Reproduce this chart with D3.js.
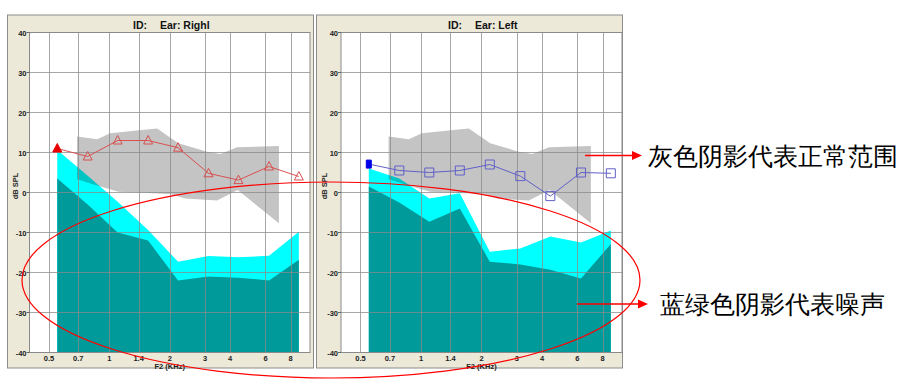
<!DOCTYPE html>
<html>
<head>
<meta charset="utf-8">
<script src="https://cdn.jsdelivr.net/npm/d3@7"></script>
<style>
  body { margin: 0; background: #fff; }
  svg { display: block; }
  text { font-family: "Liberation Sans", Arial, sans-serif; }
</style>
</head>
<body>
<svg width="900" height="387"></svg>
<script>
"use strict";

// DP frequencies (kHz) and levels (dB SPL)
const freqs = [0.55, 0.78, 1.1, 1.56, 2.2, 3.12, 4.4, 6.25, 8.8];
const rightDp = [11, 9, 13, 13, 11.2, 4.8, 3.1, 6.5, 4];
const rightNoiseHi = [10.6, 4.2, -2.3, -9.4, -17.3, -15.9, -16.2, -15.8, -9.8];
const rightNoise = [3.5, -3, -10, -12, -22, -21, -21.3, -22, -16.8];
const leftDp = [7.1, 5.5, 5, 5.5, 7, 4.1, -0.9, 5, 4.8];
const leftNoiseHi = [6, 3.5, -1.5, -0.2, -14.8, -14, -11, -12.5, -9.5];
const leftNoise = [1.5, -2.5, -7.3, -4, -17.3, -18, -19.3, -21.5, -12.9];

// normal range band
const normUpperFreqs = [0.69, 0.87, 1.01, 1.37, 1.73, 2.21, 3.07, 3.58, 4.33, 7.0];
const normUpper = [14, 13.3, 14.8, 15.5, 16, 12.3, 10.2, 9.6, 11.3, 11.6];
const normLowerFreqs = [0.69, 0.85, 1.11, 2.01, 2.39, 3.44, 4.36, 7.0];
const normLower = [3.3, 1.9, 0.2, -0.4, -1.5, -2, 0.6, -7.7];

const xTicks = [0.5, 0.7, 1, 1.4, 2, 3, 4, 6, 8];
const yTicks = [-40, -30, -20, -10, 0, 10, 20, 30, 40];

const svg = d3.select("svg");

function drawPanel(cfg) {
  const g = svg.append("g");

  g.append("rect")
    .attr("x", cfg.fx).attr("y", 15)
    .attr("width", cfg.fw).attr("height", 353)
    .attr("fill", "#ece9d8")
    .attr("stroke", "#8c8c8c");

  const x = d3.scaleLog().domain([0.4, 10]).range([cfg.px0, cfg.px1]);
  const y = d3.scaleLinear().domain([-40, 40]).range([352.5, 32.5]);

  g.append("rect")
    .attr("x", cfg.px0).attr("y", 32.5)
    .attr("width", cfg.px1 - cfg.px0).attr("height", 320)
    .attr("fill", "#fff");

  const clipId = "clip" + cfg.key;
  g.append("clipPath").attr("id", clipId)
    .append("rect")
    .attr("x", cfg.px0).attr("y", 32.5)
    .attr("width", cfg.px1 - cfg.px0).attr("height", 320);

  const plot = g.append("g").attr("clip-path", `url(#${clipId})`);

  const area = (vals) => d3.area()
    .x((d, i) => x(freqs[i]))
    .y0(y(-40))
    .y1((d) => y(d))(vals);

  plot.append("path").attr("d", area(cfg.noiseHi)).attr("fill", "#00ffff");
  plot.append("path").attr("d", area(cfg.noise)).attr("fill", "#009a9a");

  // gray normal range, drawn like the instrument does (multiplied over noise)
  const band = normUpperFreqs.map((f, i) => [x(f), y(normUpper[i])])
    .concat(normLowerFreqs.map((f, i) => [x(f), y(normLower[i])]).reverse());
  plot.append("path")
    .attr("d", d3.line()(band) + "Z")
    .attr("fill", "#c4c4c4")
    .style("mix-blend-mode", "multiply");

  // grid
  plot.selectAll(".vg").data(xTicks).enter().append("line")
    .attr("x1", (d) => Math.round(x(d)) + 0.5).attr("x2", (d) => Math.round(x(d)) + 0.5)
    .attr("y1", 32.5).attr("y2", 352.5)
    .attr("stroke", "#8a8a8a").attr("stroke-opacity", 0.75);
  plot.selectAll(".hg").data(yTicks).enter().append("line")
    .attr("x1", cfg.px0).attr("x2", cfg.px1)
    .attr("y1", (d) => y(d)).attr("y2", (d) => y(d))
    .attr("stroke", "#8a8a8a").attr("stroke-opacity", 0.75);

  g.append("rect")
    .attr("x", cfg.px0).attr("y", 32.5)
    .attr("width", cfg.px1 - cfg.px0).attr("height", 320)
    .attr("fill", "none").attr("stroke", "#8a8a8a");

  // DP line and markers
  plot.append("path")
    .attr("d", d3.line().x((d, i) => x(freqs[i])).y((d) => y(d))(cfg.dp))
    .attr("fill", "none").attr("stroke", cfg.color).attr("stroke-width", 1);

  const marks = plot.selectAll(".m").data(cfg.dp).enter().append("path")
    .attr("transform", (d, i) => `translate(${x(freqs[i])},${y(d)})`)
    .attr("fill", (d, i) => (i === 0 ? cfg.fill : "#fff"))
    .attr("fill-opacity", (d, i) => (i === 0 ? 1 : 0))
    .attr("stroke", (d, i) => (i === 0 ? cfg.fill : cfg.color))
    .attr("stroke-width", 1);
  if (cfg.key === "R") {
    marks.attr("d", "M0,-5L4.5,3.5L-4.5,3.5Z");
  } else {
    marks.attr("d", (d, i) => (i === 0 ? "M-2.5,-4H2.5V4H-2.5Z" : "M-4.5,-4.5H4.5V4.5H-4.5Z"));
  }

  // axes labels
  g.selectAll(".yl").data(yTicks).enter().append("text")
    .attr("x", cfg.px0 - 3).attr("y", (d) => y(d) + 3)
    .attr("text-anchor", "end")
    .attr("font-size", 7.5).attr("font-weight", "bold").attr("fill", "#222")
    .text((d) => d);
  g.selectAll(".yt").data(yTicks).enter().append("line")
    .attr("x1", cfg.px0 - 3).attr("x2", cfg.px0)
    .attr("y1", (d) => y(d)).attr("y2", (d) => y(d))
    .attr("stroke", "#666");

  g.selectAll(".xl").data(xTicks).enter().append("text")
    .attr("x", (d) => x(d)).attr("y", 361)
    .attr("text-anchor", "middle")
    .attr("font-size", 7.5).attr("font-weight", "bold").attr("fill", "#222")
    .text((d) => d);

  g.append("text")
    .attr("x", (cfg.px0 + cfg.px1) / 2).attr("y", 369)
    .attr("text-anchor", "middle")
    .attr("font-size", 7.5).attr("font-weight", "bold").attr("fill", "#222")
    .text("F2  (KHz)");

  g.append("text")
    .attr("transform", `translate(${cfg.fx + 10},186) rotate(-90)`)
    .attr("text-anchor", "middle")
    .attr("font-size", 7.5).attr("font-weight", "bold").attr("fill", "#222")
    .text("dB SPL");

  g.append("text")
    .attr("x", cfg.tx).attr("y", 29)
    .attr("font-size", 10.5).attr("font-weight", "bold").attr("fill", "#111")
    .text("ID:");
  g.append("text")
    .attr("x", cfg.tx + 27).attr("y", 29)
    .attr("font-size", 10.5).attr("font-weight", "bold").attr("fill", "#111")
    .text(cfg.title);
}

drawPanel({
  key: "R", fx: 7.5, fw: 306, px0: 29.5, px1: 310, tx: 133,
  title: "Ear: Righl", dp: rightDp, noiseHi: rightNoiseHi, noise: rightNoise,
  color: "#d85050", fill: "#e80000"
});
drawPanel({
  key: "L", fx: 316.5, fw: 306, px0: 341, px1: 622, tx: 448,
  title: "Ear: Left", dp: leftDp, noiseHi: leftNoiseHi, noise: leftNoise,
  color: "#6060c8", fill: "#0000e8"
});

// annotations
svg.append("ellipse")
  .attr("cx", 331).attr("cy", 280).attr("rx", 309).attr("ry", 98)
  .attr("fill", "none").attr("stroke", "#ff0000").attr("stroke-width", 1.2);

const notes = [
  { x1: 585, x2: 642, y: 155.5, tx: 648, text: "灰色阴影代表正常范围" },
  { x1: 577, x2: 648, y: 304, tx: 660, text: "蓝绿色阴影代表噪声" }
];
notes.forEach((n) => {
  svg.append("line")
    .attr("x1", n.x1).attr("x2", n.x2 - 8)
    .attr("y1", n.y).attr("y2", n.y)
    .attr("stroke", "#ff0000").attr("stroke-width", 1.5);
  svg.append("path")
    .attr("d", `M${n.x2},${n.y}L${n.x2 - 10},${n.y - 4.5}L${n.x2 - 10},${n.y + 4.5}Z`)
    .attr("fill", "#ff0000");
  svg.append("text")
    .attr("x", n.tx).attr("y", n.y + 9)
    .attr("font-family", "'Noto Sans CJK SC', sans-serif")
    .attr("font-size", 24.5).attr("fill", "#000")
    .text(n.text);
});
</script>
</body>
</html>
